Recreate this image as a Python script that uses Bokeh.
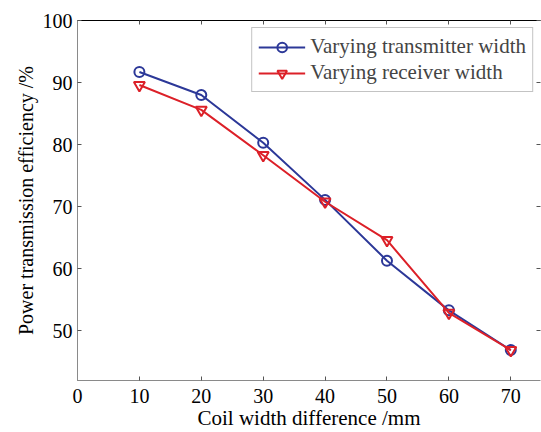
from bokeh.plotting import figure
from bokeh.models import Range1d, LinearAxis, Legend, LegendItem, FixedTicker
from bokeh.embed import file_html
from bokeh.resources import INLINE

x_vals = [10, 20, 30, 40, 50, 60, 70]
transmitter = [91.7, 88.0, 80.3, 71.1, 61.3, 53.3, 46.9]
receiver = [89.6, 85.6, 78.3, 70.8, 64.6, 52.9, 46.9]
x_ticks = [0, 10, 20, 30, 40, 50, 60, 70]
y_ticks = [50, 60, 70, 80, 90, 100]

FONT = "'Liberation Serif', 'Times New Roman', serif"
BLUE = "#2C3898"
RED = "#DC2028"

p = figure(width=541, height=432, output_backend="svg", toolbar_location=None,
           x_range=Range1d(0, 74.8), y_range=Range1d(42, 100),
           min_border_left=77, min_border_right=1, min_border_top=20, min_border_bottom=52)
p.grid.visible = False
p.outline_line_color = None
p.background_fill_color = "white"

def style_axis(ax):
    ax.major_tick_in = 4
    ax.major_tick_out = 0
    ax.minor_tick_in = 0
    ax.minor_tick_out = 0
    ax.major_label_text_font = FONT
    ax.major_label_text_font_size = "20px"
    ax.major_label_text_color = "black"
    ax.axis_label_text_font = FONT
    ax.axis_label_text_font_size = "21px"
    ax.axis_label_text_font_style = "normal"
    ax.axis_label_text_color = "black"
    ax.axis_line_color = "#8a8a8a"
    ax.major_tick_line_color = "#555555"

xa = p.xaxis[0]
ya = p.yaxis[0]
xa.ticker = FixedTicker(ticks=x_ticks)
ya.ticker = FixedTicker(ticks=y_ticks)
xa.axis_label = "Coil width difference /mm"
ya.axis_label = "Power transmission efficiency /%"
style_axis(xa)
style_axis(ya)
ya.axis_label_text_font_size = "20px"
xa.major_label_standoff = 8
xa.axis_label_standoff = 0
ya.major_label_standoff = 5
ya.axis_label_standoff = 3

top = LinearAxis(ticker=FixedTicker(ticks=x_ticks))
style_axis(top)
top.major_label_overrides = {t: "" for t in x_ticks}
top.axis_line_color = "black"
p.add_layout(top, "above")
right = LinearAxis(ticker=FixedTicker(ticks=y_ticks))
style_axis(right)
right.major_label_overrides = {t: "" for t in y_ticks}
right.axis_line_color = None
p.add_layout(right, "right")

bl = p.line(x_vals, transmitter, line_color=BLUE, line_width=2)
bm = p.scatter(x_vals, transmitter, marker="circle", size=10, fill_color=None,
               line_color=BLUE, line_width=2)
rl = p.line(x_vals, receiver, line_color=RED, line_width=2)
rm = p.scatter(x_vals, receiver, marker="inverted_triangle", size=11, fill_color=None,
               line_color=RED, line_width=2)

legend = Legend(items=[LegendItem(label="Varying transmitter width", renderers=[bl, bm]),
                       LegendItem(label="Varying receiver width", renderers=[rl, rm])],
                location="top_right")
legend.label_text_font = FONT
legend.label_text_font_size = "21px"
legend.glyph_width = 47
legend.glyph_height = 24
legend.spacing = 1
legend.padding = 6
legend.margin = 7
legend.label_standoff = 5
legend.border_line_color = "#888888"
legend.label_height = 24
p.add_layout(legend)

open("out.html", "w").write(file_html(p, INLINE))
